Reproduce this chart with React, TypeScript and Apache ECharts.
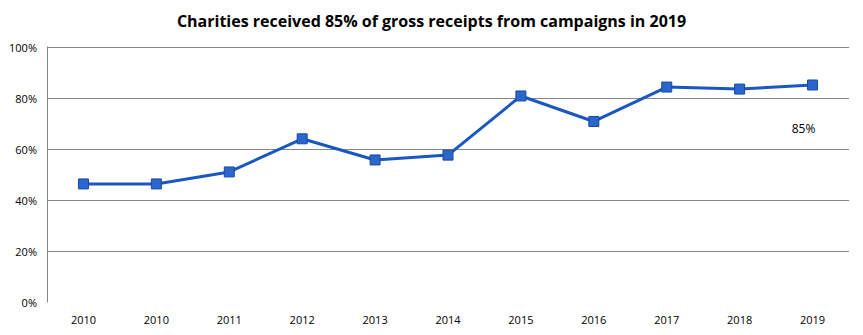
import React, { useEffect, useRef } from "react";
import * as echarts from "echarts";

const title = "Charities received 85% of gross receipts from campaigns in 2019";
const categories = ["2010", "2010", "2011", "2012", "2013", "2014", "2015", "2016", "2017", "2018", "2019"];
const shareValues = [0.463, 0.463, 0.51, 0.64, 0.557, 0.576, 0.808, 0.708, 0.843, 0.835, 0.851];
const yTicks = [0, 0.2, 0.4, 0.6, 0.8, 1.0];
const lastLabel = "85%";

export default function App() {
  const ref = useRef<HTMLDivElement>(null);
  useEffect(() => {
    document.body.style.margin = "0";
    const chart = echarts.init(ref.current!, null, { renderer: "svg" });
    const data = shareValues.map((v, i) =>
      i === shareValues.length - 1
        ? {
            value: v,
            label: {
              show: true,
              formatter: lastLabel,
              position: "bottom",
              distance: 5,
              offset: [-9, 27],
              color: "#000",
              fontSize: 12,
              fontFamily: "Open Sans",
            },
          }
        : v
    );
    chart.setOption({
      animation: false,
      backgroundColor: "#fff",
      title: {
        text: title,
        left: "center",
        top: 8,
        textStyle: { fontSize: 16, fontWeight: "bold", color: "#000", fontFamily: "Open Sans" },
      },
      grid: { left: 47, right: 14, top: 47, bottom: 33, containLabel: false, outerBoundsMode: "none" },
      xAxis: {
        type: "category",
        data: categories,
        boundaryGap: true,
        axisLine: { show: false },
        axisTick: { show: false },
        axisLabel: { color: "#000", fontSize: 11, margin: 12, fontFamily: "Open Sans", interval: 0 },
      },
      yAxis: {
        type: "value",
        min: yTicks[0],
        max: yTicks[yTicks.length - 1],
        interval: 0.2,
        axisLine: { show: true, lineStyle: { color: "#868686", width: 1 } },
        axisTick: { show: false },
        axisLabel: {
          color: "#000",
          fontSize: 11,
          margin: 10,
          fontFamily: "Open Sans",
          formatter: (v: number) => Math.round(v * 100) + "%",
        },
        splitLine: {
          show: true,
          lineStyle: {
            color: ["rgba(0,0,0,0)", "#868686", "#868686", "#868686", "#868686", "#868686"],
            width: 1,
          },
        },
      },
      series: [
        {
          type: "line",
          data,
          symbol: "rect",
          symbolSize: 10,
          lineStyle: { color: "#1a57c2", width: 3 },
          itemStyle: { color: "#2b66cf", borderColor: "#1a4a9e", borderWidth: 1 },
        },
      ],
    });
    return () => chart.dispose();
  }, []);
  return <div ref={ref} style={{ width: 863, height: 335 }} />;
}
